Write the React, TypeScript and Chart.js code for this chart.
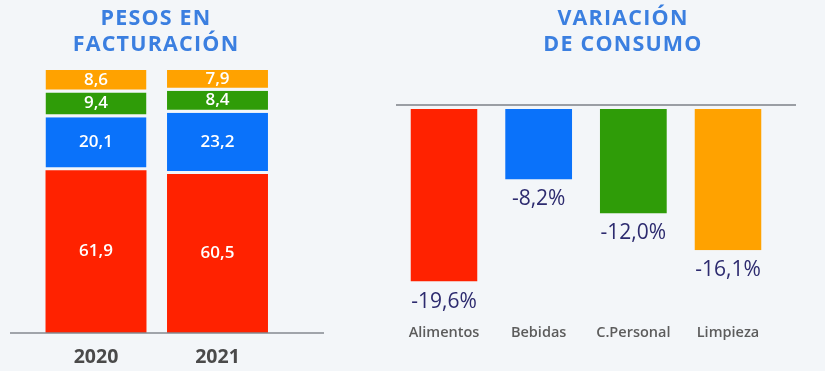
import React, { useEffect, useRef } from "react";
import { Chart, registerables } from "chart.js";

Chart.register(...registerables);

// ---- Data ----
const years = ["2020", "2021"];
const alimentosShare = [61.9, 60.5];
const bebidasShare = [20.1, 23.2];
const cpersonalShare = [9.4, 8.4];
const limpiezaShare = [8.6, 7.9];

const categories = ["Alimentos", "Bebidas", "C.Personal", "Limpieza"];
const consumoVariation = [-19.6, -8.2, -12.0, -16.1];

const titleLeft = ["PESOS EN", "FACTURACIÓN"];
const titleRight = ["VARIACIÓN", "DE CONSUMO"];

// ---- Styles ----
const BG = "#f3f6f9";
const RED = "#ff2200";
const BLUE = "#0a72fa";
const GREEN = "#2f9c08";
const ORANGE = "#ffa200";
const TITLE_BLUE = "#3b7fe0";
const FONT = "'Open Sans', 'Noto Sans', sans-serif";
const CANVAS_H = 390;

const fmt = (v: number) => v.toFixed(1).replace(".", ",");

const baselinePlugin = (extL: number, extR: number, color: string, width: number, dy: number) => ({
  id: "baseline",
  afterDatasetsDraw(chart: any) {
    const { ctx, chartArea, scales } = chart;
    const y = scales.y.getPixelForValue(0) + dy;
    ctx.save();
    ctx.strokeStyle = color;
    ctx.lineWidth = width;
    ctx.beginPath();
    ctx.moveTo(chartArea.left - extL, y);
    ctx.lineTo(chartArea.right + extR, y);
    ctx.stroke();
    ctx.restore();
  },
});

const insideLabelsPlugin = {
  id: "insideLabels",
  afterDatasetsDraw(chart: any) {
    const { ctx } = chart;
    ctx.save();
    ctx.fillStyle = "#ffffff";
    ctx.font = `600 17px ${FONT}`;
    ctx.textAlign = "center";
    ctx.textBaseline = "middle";
    chart.data.datasets.forEach((ds: any, di: number) => {
      const meta = chart.getDatasetMeta(di);
      const gap = ds.borderWidth && ds.borderWidth.bottom ? ds.borderWidth.bottom : 0;
      meta.data.forEach((el: any, i: number) => {
        const { x, y, base } = el.getProps(["x", "y", "base"], true);
        ctx.fillText(fmt(ds.data[i]), x, (y + base - gap) / 2);
      });
    });
    ctx.restore();
  },
};

const belowLabelsPlugin = {
  id: "belowLabels",
  afterDatasetsDraw(chart: any) {
    const { ctx } = chart;
    ctx.save();
    ctx.fillStyle = "#2d2b6f";
    ctx.font = `400 21px ${FONT}`;
    ctx.textAlign = "center";
    ctx.textBaseline = "middle";
    chart.data.datasets.forEach((ds: any, di: number) => {
      const meta = chart.getDatasetMeta(di);
      meta.data.forEach((el: any, i: number) => {
        const { x, y } = el.getProps(["x", "y"], true);
        ctx.fillText(fmt(ds.data[i]) + "%", x, y + 20);
      });
    });
    ctx.restore();
  },
};

export default function App() {
  const leftRef = useRef<HTMLCanvasElement | null>(null);
  const rightRef = useRef<HTMLCanvasElement | null>(null);

  useEffect(() => {
    const gapBorder = { top: 0, right: 0, bottom: 3, left: 0 };
    // left x-axis: 2*padding(13) + lineHeight(19.5*1.2) = 49.4 ; chart bottom at 333
    const left = new Chart(leftRef.current as HTMLCanvasElement, {
      type: "bar",
      data: {
        labels: years,
        datasets: [
          { label: "Alimentos", data: alimentosShare, backgroundColor: RED, borderWidth: 0 },
          { label: "Bebidas", data: bebidasShare, backgroundColor: BLUE, borderColor: BG, borderWidth: gapBorder, borderSkipped: false },
          { label: "C.Personal", data: cpersonalShare, backgroundColor: GREEN, borderColor: BG, borderWidth: gapBorder, borderSkipped: false },
          { label: "Limpieza", data: limpiezaShare, backgroundColor: ORANGE, borderColor: BG, borderWidth: gapBorder, borderSkipped: false },
        ] as any,
      },
      options: {
        responsive: false,
        animation: false,
        events: [],
        layout: { padding: { left: 35.25, right: 61.75, top: 70, bottom: CANVAS_H - 333 - 49.4 } },
        datasets: { bar: { barPercentage: 0.831, categoryPercentage: 1 } } as any,
        plugins: { legend: { display: false }, tooltip: { enabled: false }, title: { display: false } },
        scales: {
          x: {
            stacked: true,
            grid: { display: false, drawTicks: false },
            border: { display: false },
            ticks: { color: "#4a4a4a", font: { family: FONT, size: 19.5, weight: "bold" }, padding: 13 },
          },
          y: { stacked: true, display: false, min: 0, max: 100 },
        },
      },
      plugins: [baselinePlugin(25.25, 45.75, "#85898f", 1.5, 0), insideLabelsPlugin],
    });

    // right x-axis: 2*padding(12) + lineHeight(14.5*1.2) = 41.4 ; chart bottom at 312
    const right = new Chart(rightRef.current as HTMLCanvasElement, {
      type: "bar",
      data: {
        labels: categories,
        datasets: [
          {
            label: "Variación de consumo",
            data: consumoVariation,
            backgroundColor: [RED, BLUE, GREEN, ORANGE],
            borderColor: BG,
            borderWidth: { top: 3, right: 0, bottom: 0, left: 0 },
            borderSkipped: false,
            barPercentage: 0.708,
            categoryPercentage: 1,
          } as any,
        ],
      },
      options: {
        responsive: false,
        animation: false,
        events: [],
        layout: { padding: { left: 56.67, right: 49.67, top: 106, bottom: CANVAS_H - 312 - 41.4 } },
        plugins: { legend: { display: false }, tooltip: { enabled: false }, title: { display: false } },
        scales: {
          x: {
            grid: { display: false, drawTicks: false },
            border: { display: false },
            ticks: { color: "#5c5c5c", font: { family: FONT, size: 14.5, weight: 600 as any }, padding: 12 },
          },
          y: { display: false, min: -23, max: 0 },
        },
      },
      plugins: [baselinePlugin(0.67, 20.67, "#9a9ea4", 2, -1), belowLabelsPlugin],
    });

    return () => {
      left.destroy();
      right.destroy();
    };
  }, []);

  const titleStyle = (centerX: number): React.CSSProperties => ({
    position: "absolute",
    left: centerX - 150,
    width: 300,
    top: 4,
    textAlign: "center",
    color: TITLE_BLUE,
    fontFamily: FONT,
    fontWeight: 700,
    fontSize: 21.5,
    lineHeight: "26px",
    letterSpacing: "1.2px",
    margin: 0,
  });

  return (
    <div
      style={{
        position: "fixed",
        left: 0,
        top: 0,
        width: 825,
        height: 371,
        background: BG,
        overflow: "hidden",
      }}
    >
      <canvas
        ref={leftRef}
        width={340}
        height={CANVAS_H}
        style={{ position: "absolute", left: 0, top: 0, width: 340, height: CANVAS_H }}
      />
      <canvas
        ref={rightRef}
        width={485}
        height={CANVAS_H}
        style={{ position: "absolute", left: 340, top: 0, width: 485, height: CANVAS_H }}
      />
      <div style={titleStyle(156)}>
        {titleLeft[0]}
        <br />
        {titleLeft[1]}
      </div>
      <div style={titleStyle(623)}>
        {titleRight[0]}
        <br />
        {titleRight[1]}
      </div>
    </div>
  );
}
